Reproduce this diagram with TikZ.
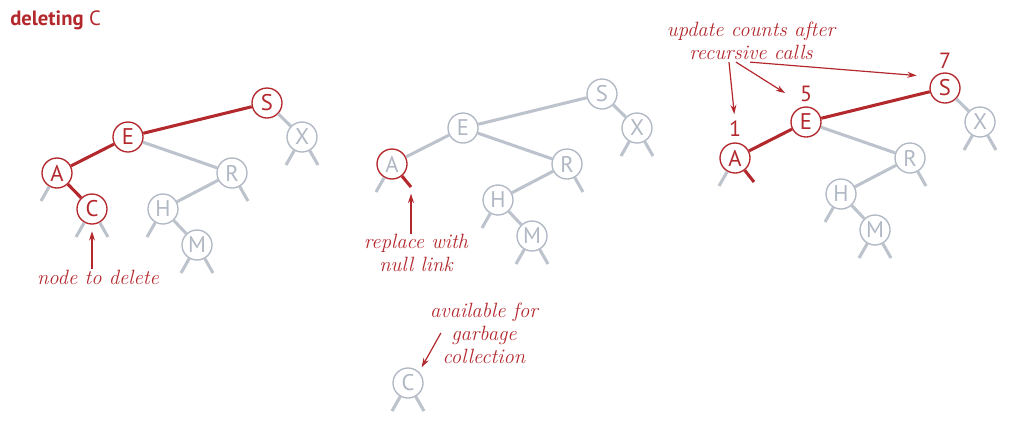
\documentclass[tikz,border=0pt]{standalone}
\usepackage{fontspec}
\setsansfont{PT Sans}
\usetikzlibrary{arrows.meta,calc,positioning}
\definecolor{ink}{HTML}{B3282D}
\definecolor{linkgray}{HTML}{BDC3CC}
\definecolor{keygray}{HTML}{B0B8C4}
\tikzset{
  treenode/.style={circle,draw=keygray,fill=white,line width=1pt,minimum size=22.5pt,inner sep=0pt,
    font=\sffamily\fontsize{17}{17}\selectfont,text=keygray},
  hotnode/.style={treenode,draw=ink,text=ink},
  hotring/.style={treenode,draw=ink},
  link/.style={line width=2.3pt,draw=linkgray},
  hotlink/.style={line width=2.3pt,draw=ink},
  note/.style={font=\itshape\fontsize{15.5}{17.2}\selectfont,text=ink,align=center,inner sep=0pt},
  count/.style={font=\sffamily\fontsize{16.5}{16.5}\selectfont,text=ink,inner sep=0pt},
  pointer/.style={-{Stealth[length=7pt,width=4.5pt]},line width=0.9pt,draw=ink}
}
\begin{document}
\begin{tikzpicture}[x=0.75pt,y=-0.75pt]
  \useasboundingbox (0,0) rectangle (1016,426);

  \node[anchor=base west,font=\sffamily\fontsize{15.5}{15.5}\selectfont,text=ink,inner sep=0pt] (title) at (10,25)
    {\textbf{deleting} C};

  % tree before the deletion
  \node[hotnode] (s1) at (267,103) {S};
  \node[treenode] (x1) at (302,137) {X};
  \node[hotnode] (e1) at (128,137) {E};
  \node[hotnode] (a1) at (57,173) {A};
  \node[treenode] (r1) at (232,173) {R};
  \node[hotnode] (c1) at (92,209) {C};
  \node[treenode] (h1) at (163,209) {H};
  \node[treenode] (m1) at (197,245) {M};
  \draw[hotlink] (s1) -- (e1);
  \draw[hotlink] (e1) -- (a1);
  \draw[hotlink] (a1) -- (c1);
  \draw[link] (s1) -- (x1);
  \draw[link] (e1) -- (r1);
  \draw[link] (r1) -- (h1);
  \draw[link] (h1) -- (m1);
  \foreach \n in {a1,c1,h1,m1,x1} \draw[link] (\n) -- ++(-16,28);
  \foreach \n in {c1,m1,r1,x1} \draw[link] (\n) -- ++(16,28);
  \node[note] (del) at (98,277) {node to delete};
  \draw[pointer,shorten >=5pt] (del.north -| c1) -- (c1.south);

  % tree with the link replaced
  \begin{scope}[shift={(335,-9)}]
    \node[treenode] (s2) at (267,103) {S};
    \node[treenode] (x2) at (302,137) {X};
    \node[treenode] (e2) at (128,137) {E};
    \node[hotring] (a2) at (57,173) {A};
    \node[treenode] (r2) at (232,173) {R};
    \node[treenode] (h2) at (163,209) {H};
    \node[treenode] (m2) at (197,245) {M};
  \end{scope}
  \draw[link] (s2) -- (e2);
  \draw[link] (e2) -- (a2);
  \draw[link] (s2) -- (x2);
  \draw[link] (e2) -- (r2);
  \draw[link] (r2) -- (h2);
  \draw[link] (h2) -- (m2);
  \foreach \n in {a2,h2,m2,x2} \draw[link] (\n) -- ++(-16,28);
  \foreach \n in {m2,r2,x2} \draw[link] (\n) -- ++(16,28);
  \draw[hotlink] (a2) -- ++(19,23) coordinate (a2nil);
  \node[note] (repl) at (416,253) {replace with\\null link};
  \draw[pointer,shorten >=5pt] (repl.north -| a2nil) -- (a2nil);

  \node[treenode] (c2) at (408,383) {C};
  \draw[link] (c2) -- ++(-16,28);
  \draw[link] (c2) -- ++(16,28);
  \node[note] (gc) at (484,333) {available for\\garbage\\collection};
  \draw[pointer,shorten >=4pt] ($(gc.west)+(11,0)$) -- (c2.north east);

  % tree with the counts updated
  \begin{scope}[shift={(678,-15)}]
    \node[hotnode] (s3) at (267,103) {S};
    \node[treenode] (x3) at (302,137) {X};
    \node[hotnode] (e3) at (128,137) {E};
    \node[hotnode] (a3) at (57,173) {A};
    \node[treenode] (r3) at (232,173) {R};
    \node[treenode] (h3) at (163,209) {H};
    \node[treenode] (m3) at (197,245) {M};
  \end{scope}
  \draw[hotlink] (s3) -- (e3);
  \draw[hotlink] (e3) -- (a3);
  \draw[link] (s3) -- (x3);
  \draw[link] (e3) -- (r3);
  \draw[link] (r3) -- (h3);
  \draw[link] (h3) -- (m3);
  \foreach \n in {a3,h3,m3,x3} \draw[link] (\n) -- ++(-16,28);
  \foreach \n in {m3,r3,x3} \draw[link] (\n) -- ++(16,28);
  \draw[hotlink] (a3) -- ++(19,24);
  \node[count,above=4pt of a3] (n1) {1};
  \node[count,above=3pt of e3] (n5) {5};
  \node[count,above=3pt of s3] (n7) {7};
  \node[note] (upd) at (751,41) {update counts after\\recursive calls};
  \draw[pointer,shorten >=5pt] ($(upd.south)+(-22,2)$) -- (n1.north);
  \draw[pointer,shorten >=13pt] ($(upd.south)+(-15,2)$) -- (n5.south west);
  \draw[pointer,shorten >=13pt] ($(upd.south)+(-1,2)$) -- (s3.north west);
\end{tikzpicture}
\end{document}
